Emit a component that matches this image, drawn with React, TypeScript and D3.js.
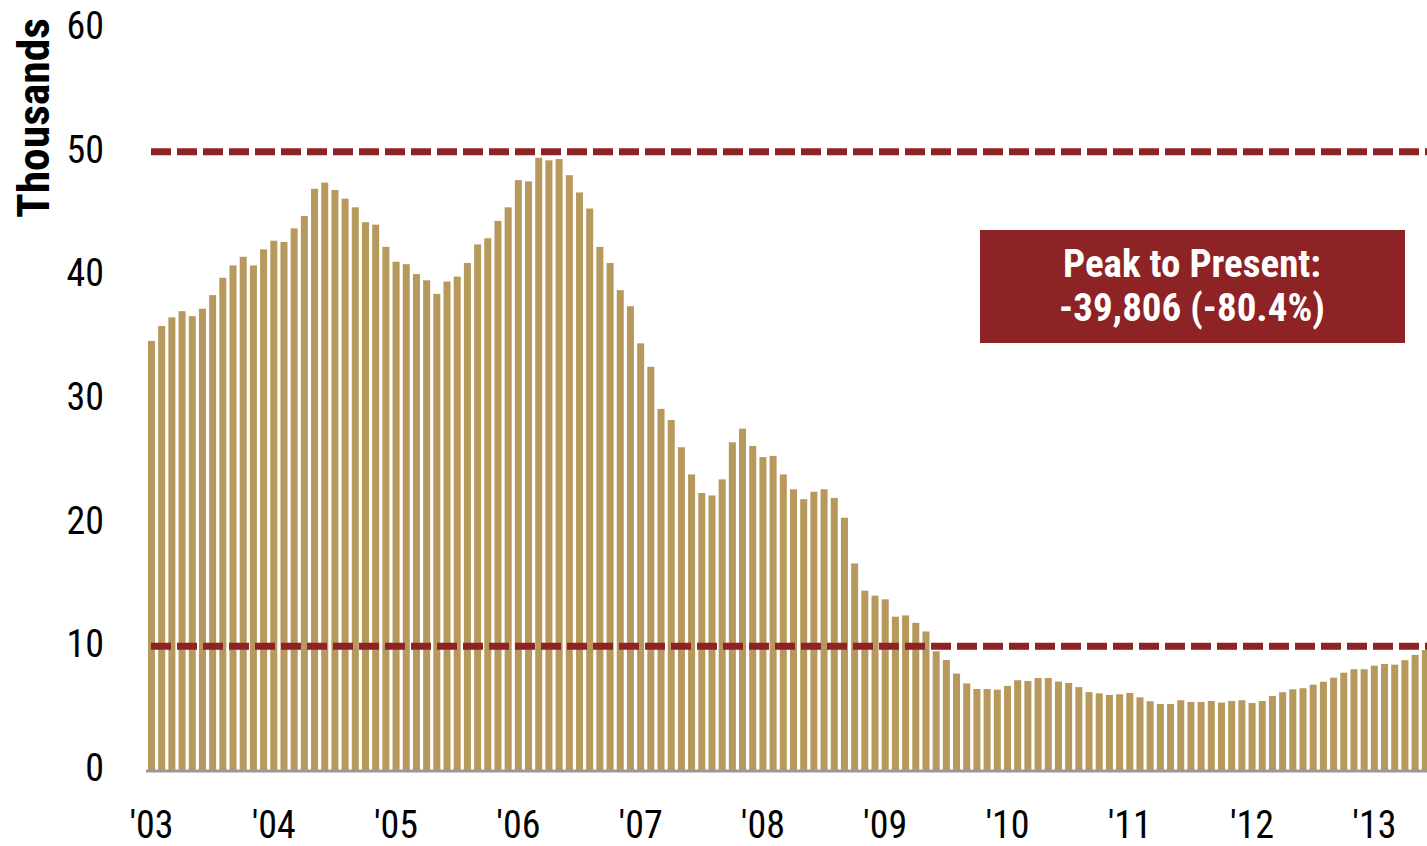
import React from "react";
import * as d3 from "d3";

const yearLabels = ["'03", "'04", "'05", "'06", "'07", "'08", "'09", "'10", "'11", "'12", "'13"];
const v2003 = [34.7, 35.9, 36.6, 37.1, 36.7, 37.3, 38.4, 39.8, 40.8, 41.5, 40.8, 42.1];
const v2004 = [42.8, 42.7, 43.8, 44.8, 47.0, 47.5, 46.9, 46.2, 45.5, 44.3, 44.1, 42.3];
const v2005 = [41.1, 40.9, 40.1, 39.6, 38.5, 39.5, 39.9, 41.0, 42.5, 43.0, 44.4, 45.5];
const v2006 = [47.7, 47.6, 49.51, 49.3, 49.4, 48.1, 46.7, 45.4, 42.3, 41.0, 38.8, 37.5];
const v2007 = [34.5, 32.6, 29.2, 28.3, 26.1, 23.9, 22.4, 22.2, 23.5, 26.5, 27.6, 26.2];
const v2008 = [25.3, 25.4, 23.9, 22.7, 21.9, 22.5, 22.7, 22.0, 20.4, 16.7, 14.5, 14.1];
const v2009 = [13.8, 12.4, 12.5, 11.9, 11.2, 9.6, 8.9, 7.8, 7.0, 6.55, 6.55, 6.5];
const v2010 = [6.8, 7.26, 7.2, 7.44, 7.44, 7.15, 7.04, 6.7, 6.3, 6.2, 6.07, 6.12];
const v2011 = [6.23, 5.88, 5.56, 5.34, 5.34, 5.64, 5.5, 5.5, 5.58, 5.45, 5.58, 5.64];
const v2012 = [5.42, 5.58, 5.99, 6.29, 6.53, 6.61, 6.9, 7.14, 7.47, 7.87, 8.15, 8.15];
const v2013 = [8.44, 8.58, 8.52, 8.88, 9.3, 9.7];
const yTicks = [0, 10, 20, 30, 40, 50, 60];
const refLines = [50, 10];
const annotationLines = ["Peak to Present:", "-39,806 (-80.4%)"];

const yearSeries = [v2003, v2004, v2005, v2006, v2007, v2008, v2009, v2010, v2011, v2012, v2013];

type Datum = { key: string; year: number; month: number; value: number };
const data: Datum[] = [];
yearSeries.forEach((arr, yi) => {
  arr.forEach((value, mi) => {
    data.push({ key: `${2003 + yi}-${mi + 1}`, year: 2003 + yi, month: mi, value });
  });
});

const W = 1427;
const H = 846;
const FONT = "'Liberation Sans Narrow', 'Roboto Condensed', 'DejaVu Sans Condensed', 'Liberation Sans', Arial, sans-serif";

export default function App() {
  const x = d3
    .scaleBand<string>()
    .domain(data.map((d) => d.key))
    .range([146.4, 1430.4])
    .paddingInner(0.31)
    .paddingOuter(0.155);
  const y = d3.scaleLinear().domain([0, 60]).range([770, 28]);

  const barColor = "#B8995D";
  const red = "#8E2326";

  return (
    <svg
      width={W}
      height={H}
      viewBox={`0 0 ${W} ${H}`}
      style={{ position: "absolute", left: 0, top: 0, background: "#fff" }}
    >
      {/* bars */}
      <g>
        {data.map((d) => (
          <rect
            key={d.key}
            x={x(d.key)}
            y={y(d.value)}
            width={x.bandwidth()}
            height={y(0) - y(d.value)}
            fill={barColor}
          />
        ))}
      </g>
      {/* baseline */}
      <line x1={146} x2={W} y1={y(0) + 1} y2={y(0) + 1} stroke="#999" strokeWidth={3} />
      {/* reference lines */}
      {refLines.map((v) => (
        <line
          key={v}
          x1={151}
          x2={W}
          y1={y(v)}
          y2={y(v)}
          stroke={red}
          strokeWidth={7}
          strokeDasharray="20 6"
        />
      ))}
      {/* y ticks */}
      {yTicks.map((t) => (
        <text
          key={t}
          x={104}
          y={y(t) - 2}
          textAnchor="end"
          dominantBaseline="central"
          fontFamily={FONT}
          fontSize={38}
          fill="#000"
        >
          {t}
        </text>
      ))}
      {/* y title */}
      <text
        transform={`translate(49, 118) rotate(-90)`}
        textAnchor="middle"
        fontFamily={FONT}
        fontWeight="bold"
        fontSize={44}
        textLength={200}
        lengthAdjust="spacingAndGlyphs"
        fill="#000"
      >
        Thousands
      </text>
      {/* x labels */}
      {yearLabels.map((lab, i) => {
        const key = `${2003 + i}-1`;
        const cx = (x(key) ?? 0) + x.bandwidth() / 2;
        return (
          <text
            key={lab}
            x={cx}
            y={838}
            textAnchor="middle"
            fontFamily={FONT}
            fontSize={38}
            fill="#000"
          >
            {lab}
          </text>
        );
      })}
      {/* annotation */}
      <rect x={980} y={230} width={425} height={113} fill={red} />
      {annotationLines.map((line, i) => (
        <text
          key={line}
          x={1192}
          y={277 + i * 44}
          textAnchor="middle"
          fontFamily={FONT}
          fontWeight="bold"
          fontSize={39}
          fill="#fff"
        >
          {line}
        </text>
      ))}
    </svg>
  );
}
